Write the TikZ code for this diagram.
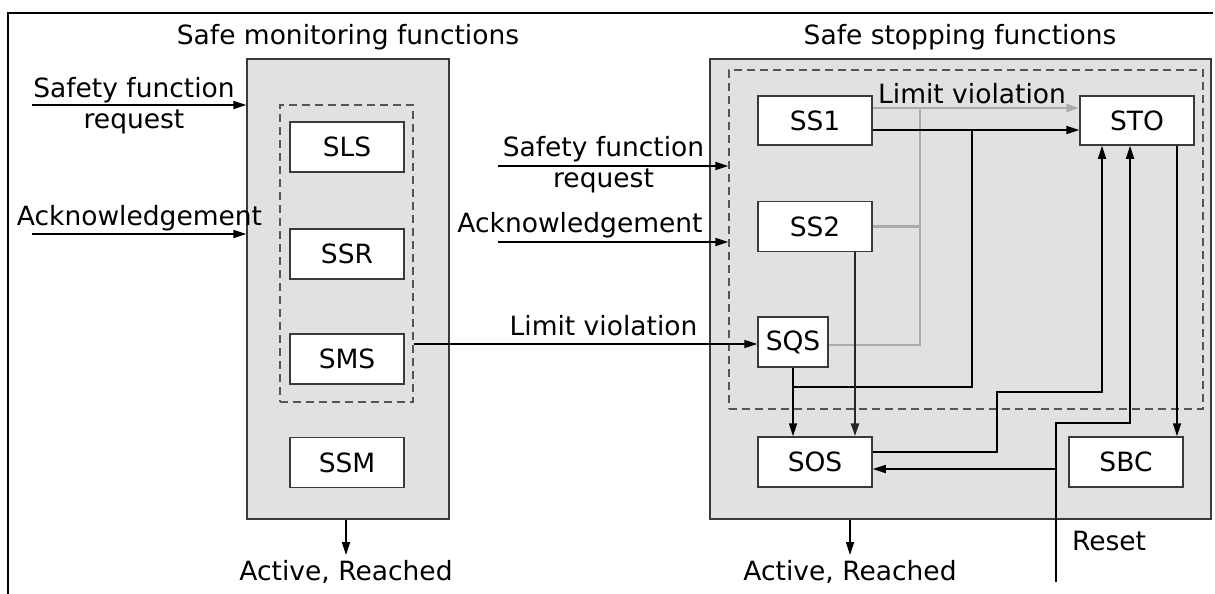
\documentclass[tikz,border=0pt]{standalone}
\usepackage{fontspec}
\setmainfont{DejaVu Sans}
\usetikzlibrary{arrows.meta}
\definecolor{panel}{HTML}{E1E1E1}
\definecolor{edge}{HTML}{3A3A3A}
\definecolor{lite}{HTML}{ABABAB}
\definecolor{dashc}{HTML}{555555}
\begin{document}
\begin{tikzpicture}[x=1pt,y=-1pt,
  every node/.style={font=\fontsize{26.5}{31}\selectfont, inner sep=0pt},
  panelbox/.style={draw=edge, fill=panel, line width=1.5pt},
  groupbox/.style={draw=dashc, dash pattern=on 8pt off 5pt, line width=1.4pt},
  fnbox/.style={draw=edge, fill=white, line width=1.5pt, minimum width=114pt, minimum height=50pt},
  conn/.style={draw=black, line width=1.7pt, -{Triangle[length=13pt,width=8pt]}},
  plain/.style={draw=black, line width=1.7pt},
  lconn/.style={draw=lite, line width=2.8pt, -{Triangle[length=13pt,width=8pt]}},
  lline/.style={draw=lite, line width=2.8pt},
  lbl/.style={anchor=base}
]
\useasboundingbox (0,0) rectangle (1215,594);
% frame
\draw[line width=1.6pt] (1213,13) -- (8,13) -- (8,594);

% panels
\node[panelbox, minimum width=202pt, minimum height=460pt] (grayL) at (348,289) {};
\node[groupbox, minimum width=133pt, minimum height=297pt] (dashL) at (346.5,253.5) {};
\node[panelbox, minimum width=501pt, minimum height=460pt] (grayR) at (960.5,289) {};
\node[groupbox, minimum width=474pt, minimum height=339pt] (dashR) at (966,239.5) {};

% function boxes
\node[fnbox] (SLS) at (347,147) {SLS};
\node[fnbox] (SSR) at (347,254) {SSR};
\node[fnbox] (SMS) at (347,359) {SMS};
\node[fnbox] (SSM) at (347,462.5) {SSM};
\node[fnbox, minimum height=49pt] (SS1) at (815,120.5) {SS1};
\node[fnbox] (SS2) at (815,226.5) {SS2};
\node[fnbox, minimum height=49pt] (STO) at (1137,120.5) {STO};
\node[fnbox, minimum width=70pt] (SQS) at (793,342) {SQS};
\node[fnbox] (SOS) at (815,462) {SOS};
\node[fnbox] (SBC) at (1126,462) {SBC};

% titles
\node[lbl] (t1) at (348,45) {Safe monitoring functions};
\node[lbl] (t2) at (960,45) {Safe stopping functions};

% left inputs
\coordinate (a1) at (32,105);
\coordinate (a2) at (32,234);
\draw[conn] (a1) -- (a1 -| grayL.west);
\draw[conn] (a2) -- (a2 -| grayL.west);
\node[lbl, align=center] (l1) at (134,128) {Safety function\\request};
\node[lbl] (l2) at (139.5,225) {Acknowledgement};

% left output
\coordinate (oL) at (346,555);
\draw[conn] (oL |- grayL.south) -- (oL);
\node[lbl] (l3) at (346,580) {Active, Reached};

% middle inputs
\coordinate (b1) at (498,166);
\coordinate (b2) at (498,242);
\draw[conn] (b1) -- (b1 -| dashR.west);
\draw[conn] (b2) -- (b2 -| dashR.west);
\node[lbl, align=center] (m1) at (603.5,187) {Safety function\\request};
\node[lbl] (m2) at (580,232) {Acknowledgement};

% limit violation SMS group -> SQS
\coordinate (lv) at (0,344);
\draw[conn] (dashL.east |- lv) -- (SQS.west |- lv);
\node[lbl] (m3) at (603.5,335) {Limit violation};

% gray limit violation paths
\coordinate (g1) at (920,108);
\coordinate (g2) at (920,345);
\draw[lconn] (SS1.east |- g1) -- (STO.west |- g1);
\draw[lline] (g1) -- (g2) -- (SQS.east |- g2);
\draw[lline] (SS2.east) -- (SS2.east -| g1);
\node[lbl] (m4) at (972,103) {Limit violation};

% black paths
\coordinate (k1) at (972,130);
\coordinate (k2) at (972,387);
\draw[conn] (SS1.east |- k1) -- (STO.west |- k1);
\draw[plain] (k1) -- (k2) -- (k2 -| SQS.south);
\draw[conn] (SQS.south) -- (SOS.north -| SQS.south);
\coordinate (s2) at (855,0);
\draw[conn, draw=black!85, line width=2.8pt] (SS2.south -| s2) -- (SOS.north -| s2);

% SOS -> STO
\coordinate (p1) at (997,452);
\coordinate (p2) at (997,392);
\coordinate (p3) at (1102,392);
\draw[conn] (SOS.east |- p1) -- (p1) -- (p2) -- (p3) -- (STO.south -| p3);

% Reset
\coordinate (r0) at (1056,582);
\coordinate (r1) at (1056,423);
\coordinate (r2) at (1130,423);
\coordinate (r3) at (1056,469);
\draw[conn] (r0) -- (r1) -- (r2) -- (STO.south -| r2);
\draw[conn] (r3) -- (SOS.east |- r3);
\node[lbl] (m5) at (1109,550) {Reset};

% STO -> SBC
\coordinate (q1) at (1177,0);
\draw[conn] (STO.south -| q1) -- (SBC.north -| q1);

% right output
\coordinate (oR) at (850,555);
\draw[conn] (oR |- grayR.south) -- (oR);
\node[lbl] (m6) at (850,580) {Active, Reached};
\end{tikzpicture}
\end{document}
